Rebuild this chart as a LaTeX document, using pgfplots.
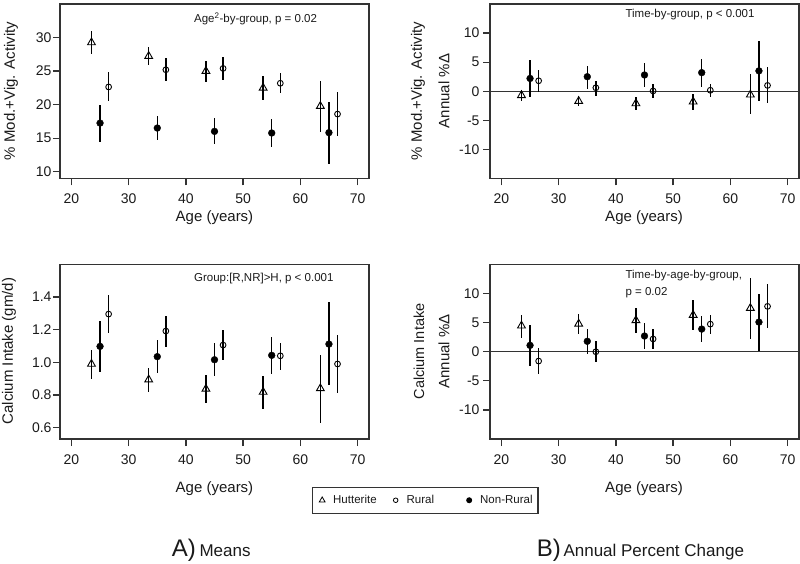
\documentclass[border=0pt]{standalone}
\usepackage{pgfplots}
\pgfplotsset{compat=1.18}
\usepackage{pgfplotstable}
\usepackage{fontspec}
\setmainfont{Liberation Sans}
\definecolor{axgray}{HTML}{333333}
\definecolor{txt}{HTML}{1A1A1A}

% x y lo hi
\pgfplotstableread{
x y lo hi
23.5 29.26 27.58 30.94
33.5 27.23 25.85 28.60
43.5 25.00 23.40 26.50
53.5 22.50 20.67 24.30
63.5 19.78 15.95 23.50
}\hutA
\pgfplotstableread{
x y lo hi
26.5 22.64 20.57 24.80
36.5 25.20 23.48 26.99
46.5 25.40 23.73 27.09
56.5 23.19 21.70 24.72
66.5 18.60 15.33 21.85
}\rurA
\pgfplotstableread{
x y lo hi
25 17.26 14.49 20.02
35 16.52 14.69 18.35
45 16.02 14.15 17.95
55 15.78 13.75 17.90
65 15.83 11.19 20.40
}\nrA
\pgfplotstableread{
x y lo hi
23.5 -0.7 -1.7 0.2
33.5 -1.7 -2.6 -0.9
43.5 -2.1 -3.3 -1.0
53.5 -1.8 -3.3 -0.5
63.5 -0.6 -3.9 3.0
}\hutB
\pgfplotstableread{
x y lo hi
26.5 1.80 -0.20 3.7
36.5 0.60 -0.75 1.8
46.5 0.05 -1.20 1.3
56.5 0.17 -1.00 1.3
66.5 1.00 -2.10 4.1
}\rurB
\pgfplotstableread{
x y lo hi
25 2.2 -1.00 5.4
35 2.5 0.46 4.4
45 2.8 0.80 4.9
55 3.2 0.80 5.5
65 3.5 -1.70 8.7
}\nrB
\pgfplotstableread{
x y lo hi
23.5 0.990 0.898 1.078
33.5 0.894 0.816 0.967
43.5 0.837 0.750 0.920
53.5 0.818 0.714 0.918
63.5 0.840 0.627 1.045
}\hutC
\pgfplotstableread{
x y lo hi
26.5 1.296 1.180 1.412
36.5 1.192 1.096 1.284
46.5 1.106 1.012 1.196
56.5 1.040 0.955 1.120
66.5 0.990 0.812 1.165
}\rurC
\pgfplotstableread{
x y lo hi
25 1.098 0.943 1.253
35 1.035 0.935 1.135
45 1.016 0.914 1.118
55 1.043 0.931 1.153
65 1.112 0.859 1.367
}\nrC
\pgfplotstableread{
x y lo hi
23.5 4.47 2.45 6.37
33.5 4.80 3.00 6.50
43.5 5.40 3.30 7.50
53.5 6.30 3.80 8.90
63.5 7.50 2.20 12.60
}\hutD
\pgfplotstableread{
x y lo hi
26.5 -1.60 -3.90 0.6
36.5 0.00 -1.80 1.8
46.5 2.20 0.40 3.9
56.5 4.75 3.10 6.4
66.5 7.80 4.00 11.6
}\rurD
\pgfplotstableread{
x y lo hi
25 1.1 -2.4 4.6
35 1.8 -0.4 3.9
45 2.7 0.5 4.9
55 3.9 1.6 6.1
65 5.1 0.2 9.9
}\nrD

\pgfplotsset{
  panel/.style={
    scale only axis, width=309pt, height=174.5pt,
    xmin=18, xmax=72, xtick={20,30,40,50,60,70},
    axis line style={axgray, line width=1.3pt},
    every tick/.style={axgray, line width=1.3pt},
    major tick length=7pt,
    tick align=outside, xtick pos=bottom, ytick pos=left,
    ticklabel style={font=\fontsize{14}{16}\selectfont, text=txt},
    xticklabel style={yshift=-5pt},
    /pgf/number format/assume math mode=true,
  },
  ebar/.style={
    /pgfplots/error bars/y dir=both,
    /pgfplots/error bars/y explicit,
    /pgfplots/error bars/error mark=none,
    /pgfplots/error bars/error bar style={line width=1.4pt, black},
  },
  hut/.style={only marks, black, mark=triangle, mark size=4.5pt,
    mark options={solid, fill=none, line width=0.9pt}, ebar},
  rur/.style={only marks, black, mark=o, mark size=2.9pt,
    mark options={solid, fill=none, line width=0.9pt}, ebar},
  nr/.style={only marks, black, mark=*, mark size=3.4pt,
    mark options={solid, fill=black, draw=black}, ebar},
  /pgfplots/table/errtab/.style={/pgfplots/table/x=x, /pgfplots/table/y=y,
    /pgfplots/table/y error plus expr=\thisrow{hi}-\thisrow{y},
    /pgfplots/table/y error minus expr=\thisrow{y}-\thisrow{lo}},
}

\begin{document}
\begin{tikzpicture}
\path[use as bounding box] (0pt,0pt) rectangle (800pt,563pt);

% ---------- Top left
\begin{axis}[panel, at={(60pt,384.5pt)}, anchor=south west,
  ymin=9, ymax=35, ytick={10,15,20,25,30}, yticklabel style={xshift=2pt}]
\addplot[hut] table[errtab] {\hutA};
\addplot[rur] table[errtab] {\rurA};
\addplot[nr] table[errtab] {\nrA};
\node[anchor=west, inner sep=0pt, font=\fontsize{11.5}{13}\selectfont, text=txt]
  at (axis cs:41.4,32.8) {Age\textsuperscript{2}-by-group, p = 0.02};
\end{axis}

% ---------- Top right
\begin{axis}[panel, at={(490pt,384.5pt)}, anchor=south west,
  ymin=-15, ymax=15, ytick={-10,-5,0,5,10}]
\addplot[axgray, line width=1pt, forget plot] coordinates {(18,0) (72,0)};
\addplot[hut] table[errtab] {\hutB};
\addplot[rur] table[errtab] {\rurB};
\addplot[nr] table[errtab] {\nrB};
\node[anchor=west, inner sep=0pt, font=\fontsize{11.5}{13}\selectfont, text=txt]
  at (axis cs:41.65,13.27) {Time-by-group, p < 0.001};
\end{axis}

% ---------- Bottom left
\begin{axis}[panel, at={(60pt,124pt)}, anchor=south west,
  ymin=0.53, ymax=1.6, ytick={0.6,0.8,1.0,1.2,1.4},
  yticklabel style={xshift=2pt, /pgf/number format/.cd, fixed, fixed zerofill, precision=1},
  legend columns=3, legend cell align=left,
  legend style={at={(axis description cs:1.1825,-0.351)}, anchor=center,
    draw=axgray, line width=1.3pt, fill=white, inner xsep=5.5pt, inner ysep=8pt,
    font=\fontsize{11.5}{13}\selectfont, text=txt,
    nodes={inner sep=0pt},
    /tikz/every odd column/.append style={column sep=7pt},
    /tikz/every even column/.append style={column sep=0pt}},
  legend image code/.code={%
    \pgfpathrectangle{\pgfpoint{-4pt}{-4pt}}{\pgfpoint{8pt}{8pt}}%
    \pgfusepath{use as bounding box}%
    \draw[#1] plot coordinates {(0pt,0pt)};}]
\addplot[hut, forget plot] table[errtab] {\hutC};
\addplot[rur, forget plot] table[errtab] {\rurC};
\addplot[nr, forget plot] table[errtab] {\nrC};
\addlegendimage{only marks, black, mark=triangle, mark size=3.3pt, mark options={solid, fill=none, line width=0.8pt}}
\addlegendentry{\makebox[58.5pt][l]{Hutterite}}
\addlegendimage{only marks, black, mark=o, mark size=2.3pt, mark options={solid, fill=none, line width=0.8pt}}
\addlegendentry{\makebox[58.5pt][l]{Rural}}
\addlegendimage{only marks, black, mark=*, mark size=2.3pt, mark options={solid, fill=black}}
\addlegendentry{Non-Rural}
\node[anchor=west, inner sep=0pt, font=\fontsize{11.5}{13}\selectfont, text=txt]
  at (axis cs:41.4,1.514) {Group:[R,NR]>H, p < 0.001};
\end{axis}

% ---------- Bottom right
\begin{axis}[panel, at={(490pt,124pt)}, anchor=south west,
  ymin=-15, ymax=15, ytick={-10,-5,0,5,10}]
\addplot[axgray, line width=1pt, forget plot] coordinates {(18,0) (72,0)};
\addplot[hut] table[errtab] {\hutD};
\addplot[rur] table[errtab] {\rurD};
\addplot[nr] table[errtab] {\nrD};
\node[anchor=west, inner sep=0pt, font=\fontsize{11.5}{13}\selectfont, text=txt]
  at (axis cs:41.65,13.1) {Time-by-age-by-group,};
\node[anchor=west, inner sep=0pt, font=\fontsize{11.5}{13}\selectfont, text=txt]
  at (axis cs:41.65,10.24) {p = 0.02};
\end{axis}

% ---------- axis titles
\begin{scope}[every node/.style={inner sep=0pt, text=txt}]
\node[rotate=90, font=\fontsize{15}{17}\selectfont] at (11pt,472pt) {\% Mod.+Vig. Activity};
\node[font=\fontsize{15}{17}\selectfont] at (214.5pt,345pt) {Age (years)};
\node[rotate=90, font=\fontsize{15}{17}\selectfont] at (418pt,472pt) {\% Mod.+Vig. Activity};
\node[rotate=90, font=\fontsize{15}{17}\selectfont] at (444pt,472pt) {Annual \%Δ};
\node[font=\fontsize{15}{17}\selectfont] at (644pt,345pt) {Age (years)};

\node[rotate=90, font=\fontsize{15}{17}\selectfont] at (9pt,212pt) {Calcium Intake (gm/d)};
\node[font=\fontsize{15}{17}\selectfont] at (214.5pt,74pt) {Age (years)};
\node[rotate=90, font=\fontsize{14.5}{16}\selectfont] at (419pt,211.5pt) {Calcium Intake};
\node[rotate=90, font=\fontsize{15}{17}\selectfont] at (444pt,211.5pt) {Annual \%Δ};
\node[font=\fontsize{15}{17}\selectfont] at (644pt,74pt) {Age (years)};

\node[anchor=base west, font=\fontsize{24}{26}\selectfont] at (171.7pt,7pt) {A)};
\node[anchor=base west, font=\fontsize{17}{19}\selectfont] at (199.3pt,7pt) {Means};
\node[anchor=base west, font=\fontsize{24}{26}\selectfont] at (536.7pt,7pt) {B)};
\node[anchor=base west, font=\fontsize{17}{19}\selectfont] at (563.3pt,7pt) {Annual Percent Change};
\end{scope}
\end{tikzpicture}
\end{document}
